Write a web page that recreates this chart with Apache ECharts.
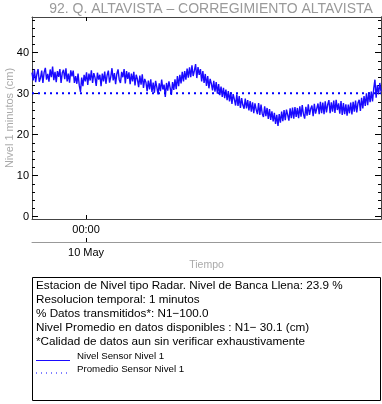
<!DOCTYPE html>
<html><head><meta charset="utf-8">
<script src="https://cdn.jsdelivr.net/npm/echarts@6/dist/echarts.min.js"></script>
<style>html,body{margin:0;padding:0;background:#fff}#c{width:382px;height:404px}</style>
</head><body><div id="c"></div>
<script>
const chartTitle = '92. Q. ALTAVISTA \u2013 CORREGIMIENTO ALTAVISTA';
const yName = 'Nivel 1 minutos (cm)';
const xName = 'Tiempo';
const startTime = Date.UTC(2024, 4, 9, 20, 17);
const stepMinutes = 5;
const nivel = [
35.1,33.2,35.9,32.8,34.7,36.0,32.9,33.8,35.6,32.6,
35.2,36.3,33.4,34.8,32.9,35.9,34.0,36.6,33.3,35.3,
32.8,35.5,34.1,36.0,32.6,35.1,35.8,33.5,36.2,33.0,
34.9,32.7,35.7,34.2,35.6,32.6,34.3,32.4,34.9,32.0,
30.4,33.9,31.8,34.6,33.0,35.2,32.1,34.9,33.2,35.7,
32.6,35.0,33.9,31.9,35.1,33.4,34.6,31.8,34.9,33.0,
35.4,32.4,34.5,35.6,32.7,34.1,36.2,33.2,35.0,32.3,
34.8,35.9,33.4,32.6,35.3,34.0,36.0,32.5,35.5,33.6,
35.2,32.3,34.9,33.0,35.3,32.0,34.6,33.5,31.6,34.4,
32.2,34.7,31.4,33.6,32.8,30.6,33.2,31.0,33.5,30.4,
32.7,30.2,33.1,31.6,29.8,32.5,30.6,33.4,31.0,32.2,
29.2,32.6,30.7,33.0,31.4,29.7,32.8,30.9,33.5,31.1,
34.3,31.8,34.6,32.5,35.3,33.0,35.5,33.4,36.1,33.9,
36.4,34.0,36.9,34.3,35.6,37.2,33.8,36.5,34.6,36.0,
33.0,35.5,32.6,34.8,31.9,34.3,31.3,33.6,32.4,30.8,
33.1,30.5,32.8,30.0,32.3,29.6,31.7,29.2,31.4,28.9,
31.0,28.4,30.6,28.1,30.3,27.5,29.9,28.6,27.1,29.8,
27.0,29.4,26.5,28.9,27.2,26.3,28.8,26.4,28.4,25.9,
28.2,25.6,27.9,25.2,27.6,26.1,25.0,27.7,24.8,27.3,
25.1,24.3,26.9,24.5,26.5,23.8,26.2,23.6,25.7,23.2,
25.3,22.6,24.8,22.1,25.0,22.9,25.6,23.3,26.0,23.5,
26.1,24.8,23.4,26.4,24.0,26.6,23.9,26.7,24.3,26.5,
24.0,26.9,24.4,27.2,25.0,23.9,26.8,24.6,27.4,24.8,
26.3,27.1,24.5,27.5,25.1,24.7,27.6,25.0,28.0,25.2,
27.8,25.0,28.1,25.4,27.3,28.4,25.2,27.9,25.6,28.3,
25.3,28.5,26.0,27.6,25.1,28.2,24.8,27.7,25.0,27.4,
24.6,27.3,25.2,27.8,24.9,28.0,25.6,28.3,25.4,27.7,
28.5,25.8,29.0,26.4,29.4,27.0,30.1,27.2,30.3,27.9,
30.5,28.1,31.2,33.4,29.0,32.1,29.8,32.6,30.5
];
const promedio = 30.1;
const yMajorTicks = [0, 10, 20, 30, 40];
const yMinorTicks = [0,2,4,6,8,10,12,14,16,18,20,22,24,26,28,30,32,34,36,38,40,42,44,46,48];
const xTickTimes = [Date.UTC(2024, 4, 10, 0, 0)];
const monthNames = ['Jan','Feb','Mar','Apr','May','Jun','Jul','Aug','Sep','Oct','Nov','Dec'];
const infoLines = [
  'Estacion de Nivel tipo Radar. Nivel de Banca Llena: 23.9 %',
  'Resolucion temporal: 1 minutos',
  '% Datos transmitidos*: N1\u2212100.0',
  'Nivel Promedio en datos disponibles : N1\u2212 30.1 (cm)',
  '*Calidad de datos aun sin verificar exhaustivamente'
];
const seriesNames = ['Nivel Sensor Nivel 1', 'Promedio Sensor Nivel 1'];

const endTime = startTime + (nivel.length - 1) * stepMinutes * 60000;
const nivelData = nivel.map((v, i) => [startTime + i * stepMinutes * 60000, v]);
const promData = [[startTime, promedio], [endTime, promedio]];
const pad = n => (n < 10 ? '0' : '') + n;
const yMin = -0.6, yMax = 48.7;
const axisCol = '#444';
const lineCol = '#1a0aff';
const font = 'Liberation Sans, Arial, Helvetica, sans-serif';

function yAx(pos, vals, len, labels) {
  return {
    type: 'value', position: pos, min: yMin, max: yMax,
    axisLine: {show: !!labels || pos === 'right', onZero: false, lineStyle: {color: axisCol, width: 1}},
    axisTick: {show: true, inside: true, length: len, customValues: vals, lineStyle: {color: '#000'}},
    axisLabel: {show: !!labels, customValues: vals, margin: 3, color: '#000', fontSize: 11, fontFamily: font},
    splitLine: {show: false}
  };
}
function xAx(pos, offset, labelFn, lineColor, name) {
  return {
    type: 'value', position: pos, offset: offset, min: startTime, max: endTime,
    name: name || '', nameLocation: 'middle', nameGap: 18,
    nameTextStyle: {color: '#aaa', fontSize: 10.5, fontFamily: font},
    axisLine: {show: true, onZero: false, lineStyle: {color: lineColor}},
    axisTick: {show: true, inside: true, length: 4, customValues: xTickTimes, lineStyle: {color: '#000'}},
    axisLabel: {show: !!labelFn, customValues: xTickTimes, margin: 5, color: '#000', fontSize: 11, fontFamily: font,
      formatter: labelFn || (() => '')},
    splitLine: {show: false}
  };
}

const option = {
  animation: false,
  backgroundColor: '#fff',
  title: {text: chartTitle, left: 206, textAlign: 'center', top: -3,
    textStyle: {color: '#9a9a9a', fontSize: 14, fontWeight: 'normal', fontFamily: font}},
  grid: {left: 32, right: 1, top: 17, bottom: 185, containLabel: false, outerBoundsMode: 'none'},
  xAxis: [
    xAx('bottom', 0, v => { const d = new Date(v); return pad(d.getUTCHours()) + ':' + pad(d.getUTCMinutes()); }, axisCol),
    xAx('bottom', 23, v => { const d = new Date(v); return d.getUTCDate() + ' ' + monthNames[d.getUTCMonth()]; }, '#999', xName),
    xAx('top', 0, null, axisCol)
  ],
  yAxis: [
    yAx('left', yMajorTicks, 6, true),
    yAx('left', yMinorTicks, 3, false),
    yAx('right', yMajorTicks, 6, false),
    yAx('right', yMinorTicks, 3, false)
  ],
  series: [
    {name: seriesNames[0], type: 'line', data: nivelData, xAxisIndex: 0, yAxisIndex: 0,
      showSymbol: false, symbol: 'none', lineStyle: {color: lineCol, width: 1.4}, z: 3},
    {name: seriesNames[1], type: 'line', data: promData, xAxisIndex: 0, yAxisIndex: 0,
      showSymbol: false, symbol: 'none', lineStyle: {color: '#0000ff', width: 2, type: [2, 4]}, z: 4}
  ],
  graphic: [
    {type: 'text', x: 10, y: 118, rotation: Math.PI / 2,
      style: {text: yName, fill: '#aaa', font: '11px ' + font, textAlign: 'center', textVerticalAlign: 'middle'}},
    {type: 'rect', shape: {x: 32.5, y: 277.5, width: 348, height: 123},
      style: {fill: 'none', stroke: '#000', lineWidth: 1}},
    ...infoLines.map((t, k) => ({type: 'text', x: 36, y: 286 + 14 * k,
      style: {text: t, fill: '#000', font: '11.7px ' + font, textVerticalAlign: 'middle'}})),
    {type: 'line', shape: {x1: 36, y1: 360.5, x2: 70, y2: 360.5}, style: {stroke: lineCol, lineWidth: 1}},
    {type: 'text', x: 77, y: 356, style: {text: seriesNames[0], fill: '#000', font: '9.7px ' + font, textVerticalAlign: 'middle'}},
    {type: 'line', shape: {x1: 36, y1: 373, x2: 70, y2: 373}, style: {stroke: '#0000ff', lineWidth: 1, lineDash: [1, 4]}},
    {type: 'text', x: 77, y: 369, style: {text: seriesNames[1], fill: '#000', font: '9.7px ' + font, textVerticalAlign: 'middle'}}
  ]
};
echarts.init(document.getElementById('c')).setOption(option);
</script></body></html>
